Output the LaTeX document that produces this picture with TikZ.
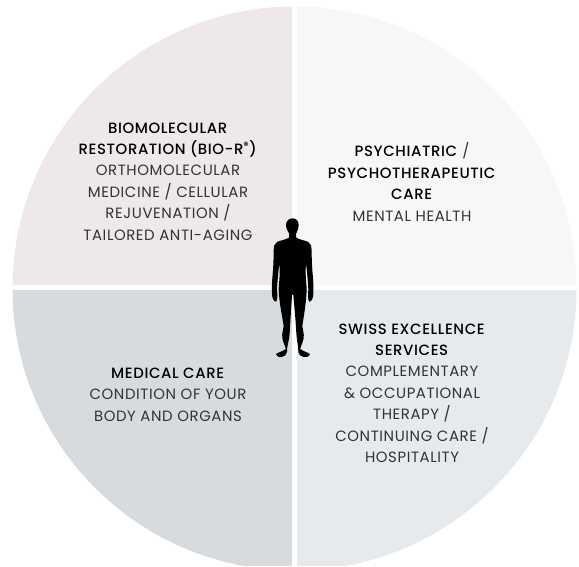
\documentclass[tikz,border=0pt]{standalone}
\usepackage{fontspec}
\setmainfont{Poppins}[BoldFont={Poppins Medium},LetterSpace=4]
\definecolor{qa}{RGB}{238,232,232}
\definecolor{qb}{RGB}{247,247,247}
\definecolor{qc}{RGB}{215,219,221}
\definecolor{qd}{RGB}{230,234,237}
\tikzset{lab/.style={align=center,anchor=center,inner sep=0pt,font=\fontsize{14.9pt}{21.4pt}\selectfont,text=black!80}}
\newcommand{\hd}[1]{\textcolor{black}{\textbf{#1}}}
\begin{document}
\begin{tikzpicture}[x=1pt,y=-1pt]
\useasboundingbox (0,0) rectangle (579,566);
\fill[white] (0,0) rectangle (579,566);
\def\cx{294.5}\def\cy{288.5}\def\R{282}
\begin{scope}
\clip (\cx,\cy) circle (\R);
\fill[qa] (0,0) rectangle (291.7,284.5);
\fill[qb] (296.8,0) rectangle (579,284.5);
\fill[qc] (0,290) rectangle (291.7,566);
\fill[qd] (296.8,290) rectangle (579,566);
\end{scope}
\node[lab] (a) at (168,181.5) {\hd{BIOMOLECULAR}\\\hd{RESTORATION (BIO-R\textsuperscript{®})}\\ORTHOMOLECULAR\\MEDICINE / CELLULAR\\REJUVENATION /\\TAILORED ANTI-AGING};
\node[lab] (b) at (412,182) {\hd{PSYCHIATRIC} /\\\hd{PSYCHOTHERAPEUTIC}\\\hd{CARE}\\MENTAL HEALTH};
\node[lab] (c) at (168,394.5) {\hd{MEDICAL CARE}\\CONDITION OF YOUR\\BODY AND ORGANS};
\node[lab] (d) at (412,393) {\hd{SWISS EXCELLENCE}\\\hd{SERVICES}\\COMPLEMENTARY\\\& OCCUPATIONAL\\THERAPY /\\CONTINUING CARE /\\HOSPITALITY};
\begin{scope}[shift={(240,200)},scale=0.3333]
\fill[black] (158,55) .. controls (168,55) and (176,62) .. (176,75)
 .. controls (176,88) and (170,96) .. (168,102) -- (169,113)
 .. controls (180,120) and (196,121) .. (205,126)
 .. controls (213,131) and (215,140) .. (215,150)
 .. controls (215,175) and (216,200) .. (218,222)
 .. controls (220,245) and (221,265) .. (220,280)
 .. controls (220,292) and (216,305) .. (208,305)
 .. controls (204,300) and (203,290) .. (205,270)
 .. controls (204,245) and (201,215) .. (198,190)
 .. controls (196,210) and (197,235) .. (200,262)
 .. controls (200,300) and (192,345) .. (187,378)
 .. controls (188,390) and (193,400) .. (191,415)
 .. controls (188,430) and (181,440) .. (181,447)
 .. controls (190,455) and (208,458) .. (210,463)
 .. controls (208,470) and (197,473) .. (190,471)
 .. controls (183,468) and (175,465) .. (175,456)
 .. controls (176,440) and (170,420) .. (169,400)
 .. controls (167,360) and (163,320) .. (160,285)
 -- (156,285)
 .. controls (154,320) and (151,360) .. (149,400)
 .. controls (148,420) and (140,440) .. (141,456)
 .. controls (141,465) and (133,468) .. (126,471)
 .. controls (119,473) and (110,470) .. (108,463)
 .. controls (110,458) and (128,455) .. (137,447)
 .. controls (137,440) and (130,430) .. (127,415)
 .. controls (125,400) and (130,390) .. (131,378)
 .. controls (126,345) and (116,300) .. (116,262)
 .. controls (119,235) and (120,210) .. (118,190)
 .. controls (115,215) and (112,245) .. (111,270)
 .. controls (113,290) and (112,300) .. (108,305)
 .. controls (100,305) and (96,292) .. (96,280)
 .. controls (95,265) and (96,245) .. (98,222)
 .. controls (100,200) and (101,175) .. (101,150)
 .. controls (101,140) and (103,131) .. (111,126)
 .. controls (120,121) and (136,120) .. (147,113)
 -- (148,102)
 .. controls (146,96) and (138,88) .. (138,75)
 .. controls (138,62) and (148,55) .. (158,55) -- cycle;
\end{scope}
\end{tikzpicture}
\end{document}
